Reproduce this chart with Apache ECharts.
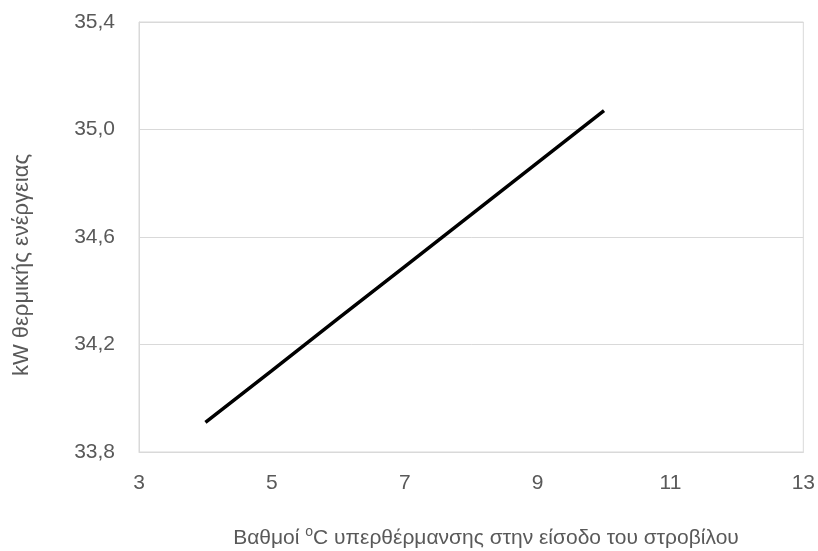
<!DOCTYPE html>
<html>
<head>
<meta charset="utf-8">
<script src="https://cdn.jsdelivr.net/npm/echarts@6/dist/echarts.min.js"></script>
<style>
  html, body { margin: 0; padding: 0; background: #fff; }
  #chart { width: 818px; height: 551px; }
</style>
</head>
<body>
<div id="chart"></div>
<script>
// Superheat degrees at turbine inlet and resulting thermal power (kW)
const superheat = [4, 5, 6, 7, 8, 9, 10];
const thermalKW = [33.91, 34.103, 34.297, 34.49, 34.683, 34.877, 35.07];

const xTicks = { min: 3, max: 13, step: 2 };
const yTicks = { min: 33.8, max: 35.4, step: 0.4 };

const xTitle = ['Βαθμοί ', 'o', 'C υπερθέρμανσης στην είσοδο του στροβίλου'];
const yTitle = 'kW θερμικής ενέργειας';

const FONT = '"Liberation Sans", Arial, sans-serif';
const TEXT = '#595959';
const GRID = '#d9d9d9';

const chart = echarts.init(document.getElementById('chart'));
chart.setOption({
  animation: false,
  grid: {
    left: 139, right: 14, top: 22, bottom: 99,
    show: true, borderColor: GRID, borderWidth: 1
  },
  xAxis: {
    type: 'value',
    min: xTicks.min, max: xTicks.max, interval: xTicks.step,
    axisLine: { show: true, lineStyle: { color: GRID } },
    axisTick: { show: false },
    splitLine: { show: false },
    axisLabel: { color: TEXT, fontFamily: FONT, fontSize: 21, margin: 21 }
  },
  yAxis: {
    type: 'value',
    min: yTicks.min, max: yTicks.max, interval: yTicks.step,
    axisLine: { show: true, lineStyle: { color: GRID } },
    axisTick: { show: false },
    splitLine: { show: true, lineStyle: { color: GRID } },
    axisLabel: {
      color: TEXT, fontFamily: FONT, fontSize: 21, margin: 24,
      formatter: v => v.toFixed(1).replace('.', ',')
    }
  },
  graphic: [
    {
      type: 'text',
      x: 486, y: 537,
      style: {
        text: '{t|' + xTitle[0] + '}{s|' + xTitle[1] + '}{t|' + xTitle[2] + '}',
        align: 'center', verticalAlign: 'middle',
        rich: {
          t: { fill: TEXT, fontFamily: FONT, fontSize: 21, lineHeight: 24, verticalAlign: 'bottom' },
          s: { fill: TEXT, fontFamily: FONT, fontSize: 14, lineHeight: 24, verticalAlign: 'top' }
        }
      }
    },
    {
      type: 'text',
      x: 22, y: 265,
      rotation: Math.PI / 2,
      style: {
        text: yTitle,
        fill: TEXT, fontFamily: FONT, fontSize: 22,
        align: 'center', verticalAlign: 'middle'
      }
    }
  ],
  series: [{
    type: 'line',
    data: superheat.map((x, i) => [x, thermalKW[i]]),
    showSymbol: false,
    lineStyle: { color: '#000', width: 3.5 }
  }]
});
</script>
</body>
</html>
